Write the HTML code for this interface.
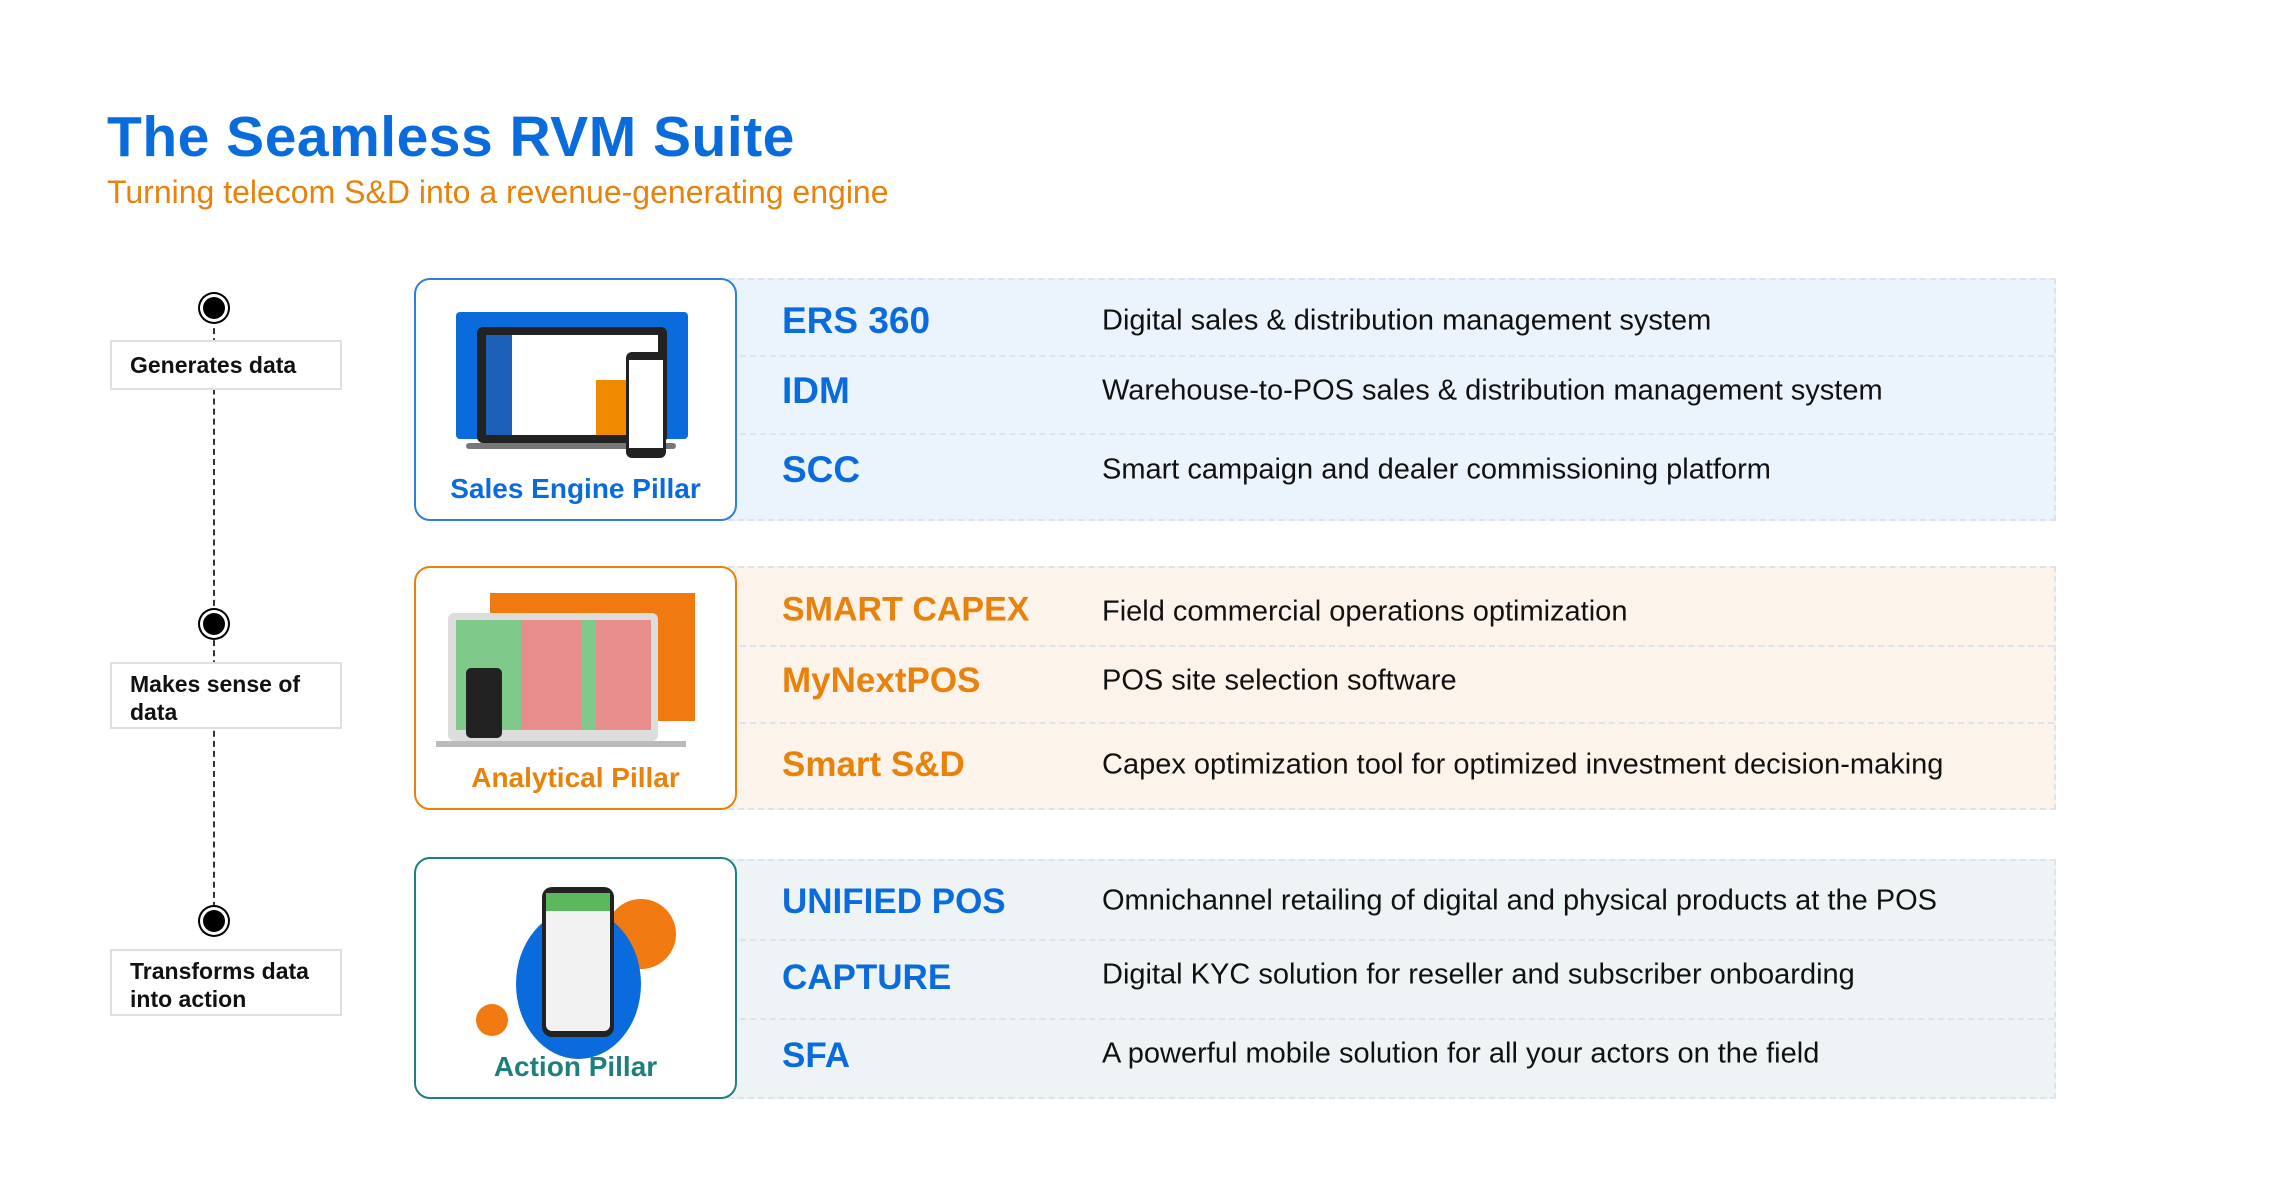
<!DOCTYPE html>
<html><head><meta charset="utf-8"><style>
*{margin:0;padding:0;box-sizing:border-box}
body{width:2283px;height:1203px;background:#fff;position:relative;font-family:"Liberation Sans",sans-serif;overflow:hidden}
.a{position:absolute}
.title{left:107px;top:104px;font-size:57px;font-weight:bold;color:#0a6cdc;letter-spacing:0.5px}
.sub{left:107px;top:174px;font-size:32px;color:#e8820c}
.lbl{position:absolute;left:110px;width:232px;border:2px solid #e0e0e0;background:#fff;font-size:23px;font-weight:bold;padding:6px 18px;line-height:28px;color:#111}
.dot{position:absolute;width:22px;height:22px;border-radius:50%;background:#000;left:203px;box-shadow:0 0 0 3px #fff,0 0 0 5px #000}
.vline{position:absolute;left:213px;top:318px;height:600px;border-left:2px dashed #333}
.pillar{position:absolute;left:414px;width:323px;border-radius:16px;background:#fff;border:2px solid;z-index:2}
.pillar .pl{position:absolute;left:0;right:0;bottom:14px;text-align:center;font-size:28px;font-weight:bold}
.panel{position:absolute;left:728px;width:1328px;border:2px dashed #dde3ea}
.row{position:absolute;left:0;right:0;border-top:2px dashed #dde3ea}
.nm{position:absolute;left:52px;font-size:37px;font-weight:bold;transform:translateY(-50%)}
.ds{position:absolute;left:372px;font-size:29px;color:#111;transform:translateY(-50%);white-space:nowrap}
</style></head><body>
<div class="a title">The Seamless RVM Suite</div>
<div class="a sub">Turning telecom S&amp;D into a revenue-generating engine</div>

<div class="vline"></div>
<div class="dot" style="top:297px"></div>
<div class="dot" style="top:613px"></div>
<div class="dot" style="top:910px"></div>
<div class="lbl" style="top:340px;height:50px;padding-top:9px">Generates data</div>
<div class="lbl" style="top:662px;height:67px">Makes sense of data</div>
<div class="lbl" style="top:949px;height:67px">Transforms data into action</div>

<div class="panel" style="top:278px;height:243px;background:#ebf3fc">
 <div class="row" style="top:75px"></div><div class="row" style="top:153px"></div>
 <div class="nm" style="top:41px;color:#0a6cdc">ERS 360</div><div class="ds" style="top:41px">Digital sales &amp; distribution management system</div>
 <div class="nm" style="top:111px;color:#0a6cdc">IDM</div><div class="ds" style="top:111px">Warehouse-to-POS sales &amp; distribution management system</div>
 <div class="nm" style="top:190px;color:#0a6cdc">SCC</div><div class="ds" style="top:190px">Smart campaign and dealer commissioning platform</div>
</div>
<div class="panel" style="top:566px;height:244px;background:#fcf4ea">
 <div class="row" style="top:77px"></div><div class="row" style="top:154px"></div>
 <div class="nm" style="top:42px;color:#e8820c;font-size:34px">SMART CAPEX</div><div class="ds" style="top:44px">Field commercial operations optimization</div>
 <div class="nm" style="top:113px;color:#e8820c;font-size:35px">MyNextPOS</div><div class="ds" style="top:113px">POS site selection software</div>
 <div class="nm" style="top:197px;color:#e8820c;font-size:35px">Smart S&amp;D</div><div class="ds" style="top:197px">Capex optimization tool for optimized investment decision-making</div>
</div>
<div class="panel" style="top:859px;height:240px;background:#eef4f5">
 <div class="row" style="top:78px"></div><div class="row" style="top:157px"></div>
 <div class="nm" style="top:41px;color:#0a6cdc;font-size:35px">UNIFIED POS</div><div class="ds" style="top:40px">Omnichannel retailing of digital and physical products at the POS</div>
 <div class="nm" style="top:117px;color:#0a6cdc;font-size:35px">CAPTURE</div><div class="ds" style="top:114px">Digital KYC solution for reseller and subscriber onboarding</div>
 <div class="nm" style="top:195px;color:#0a6cdc;font-size:35px">SFA</div><div class="ds" style="top:193px">A powerful mobile solution for all your actors on the field</div>
</div>

<div class="pillar" style="top:278px;height:243px;border-color:#2f7fdc">
 <div class="a" style="left:40px;top:32px;width:232px;height:127px;background:#0a6cdc;border-radius:4px"></div>
 <div class="a" style="left:61px;top:47px;width:190px;height:116px;background:#222;border-radius:6px"></div>
 <div class="a" style="left:70px;top:55px;width:172px;height:100px;background:#fff"></div>
 <div class="a" style="left:70px;top:55px;width:26px;height:100px;background:#1b5fb8"></div>
 <div class="a" style="left:180px;top:100px;width:35px;height:55px;background:#f08a00"></div>
 <div class="a" style="left:50px;top:163px;width:210px;height:6px;background:#777;border-radius:3px"></div>
 <div class="a" style="left:210px;top:72px;width:40px;height:106px;background:#222;border-radius:6px"></div>
 <div class="a" style="left:213px;top:80px;width:34px;height:88px;background:#fff"></div>
 <div class="pl" style="color:#0a6cdc">Sales Engine Pillar</div>
</div>
<div class="pillar" style="top:566px;height:244px;border-color:#e8820c">
 <div class="a" style="left:74px;top:25px;width:205px;height:128px;background:#f07a10"></div>
 <div class="a" style="left:32px;top:45px;width:210px;height:128px;background:#ddd;border-radius:6px"></div>
 <div class="a" style="left:40px;top:52px;width:195px;height:110px;background:#7fc98a"></div>
 <div class="a" style="left:105px;top:52px;width:60px;height:110px;background:#e88c8c"></div>
 <div class="a" style="left:180px;top:52px;width:55px;height:110px;background:#e88c8c"></div>
 <div class="a" style="left:20px;top:173px;width:250px;height:6px;background:#bbb"></div>
 <div class="a" style="left:50px;top:100px;width:36px;height:70px;background:#222;border-radius:5px"></div>
 <div class="pl" style="color:#e8820c">Analytical Pillar</div>
</div>
<div class="pillar" style="top:857px;height:242px;border-color:#1f7f7a">
 <div class="a" style="left:190px;top:40px;width:70px;height:70px;border-radius:50%;background:#f07a10"></div>
 <div class="a" style="left:100px;top:50px;width:125px;height:150px;border-radius:50%;background:#0a6cdc"></div>
 <div class="a" style="left:60px;top:145px;width:32px;height:32px;border-radius:50%;background:#f07a10"></div>
 <div class="a" style="left:126px;top:28px;width:72px;height:150px;background:#222;border-radius:10px"></div>
 <div class="a" style="left:130px;top:34px;width:64px;height:138px;background:#f2f2f2;border-radius:6px"></div>
 <div class="a" style="left:130px;top:34px;width:64px;height:18px;background:#5cb85c"></div>
 <div class="pl" style="color:#1f7f7a">Action Pillar</div>
</div>
</body></html>
